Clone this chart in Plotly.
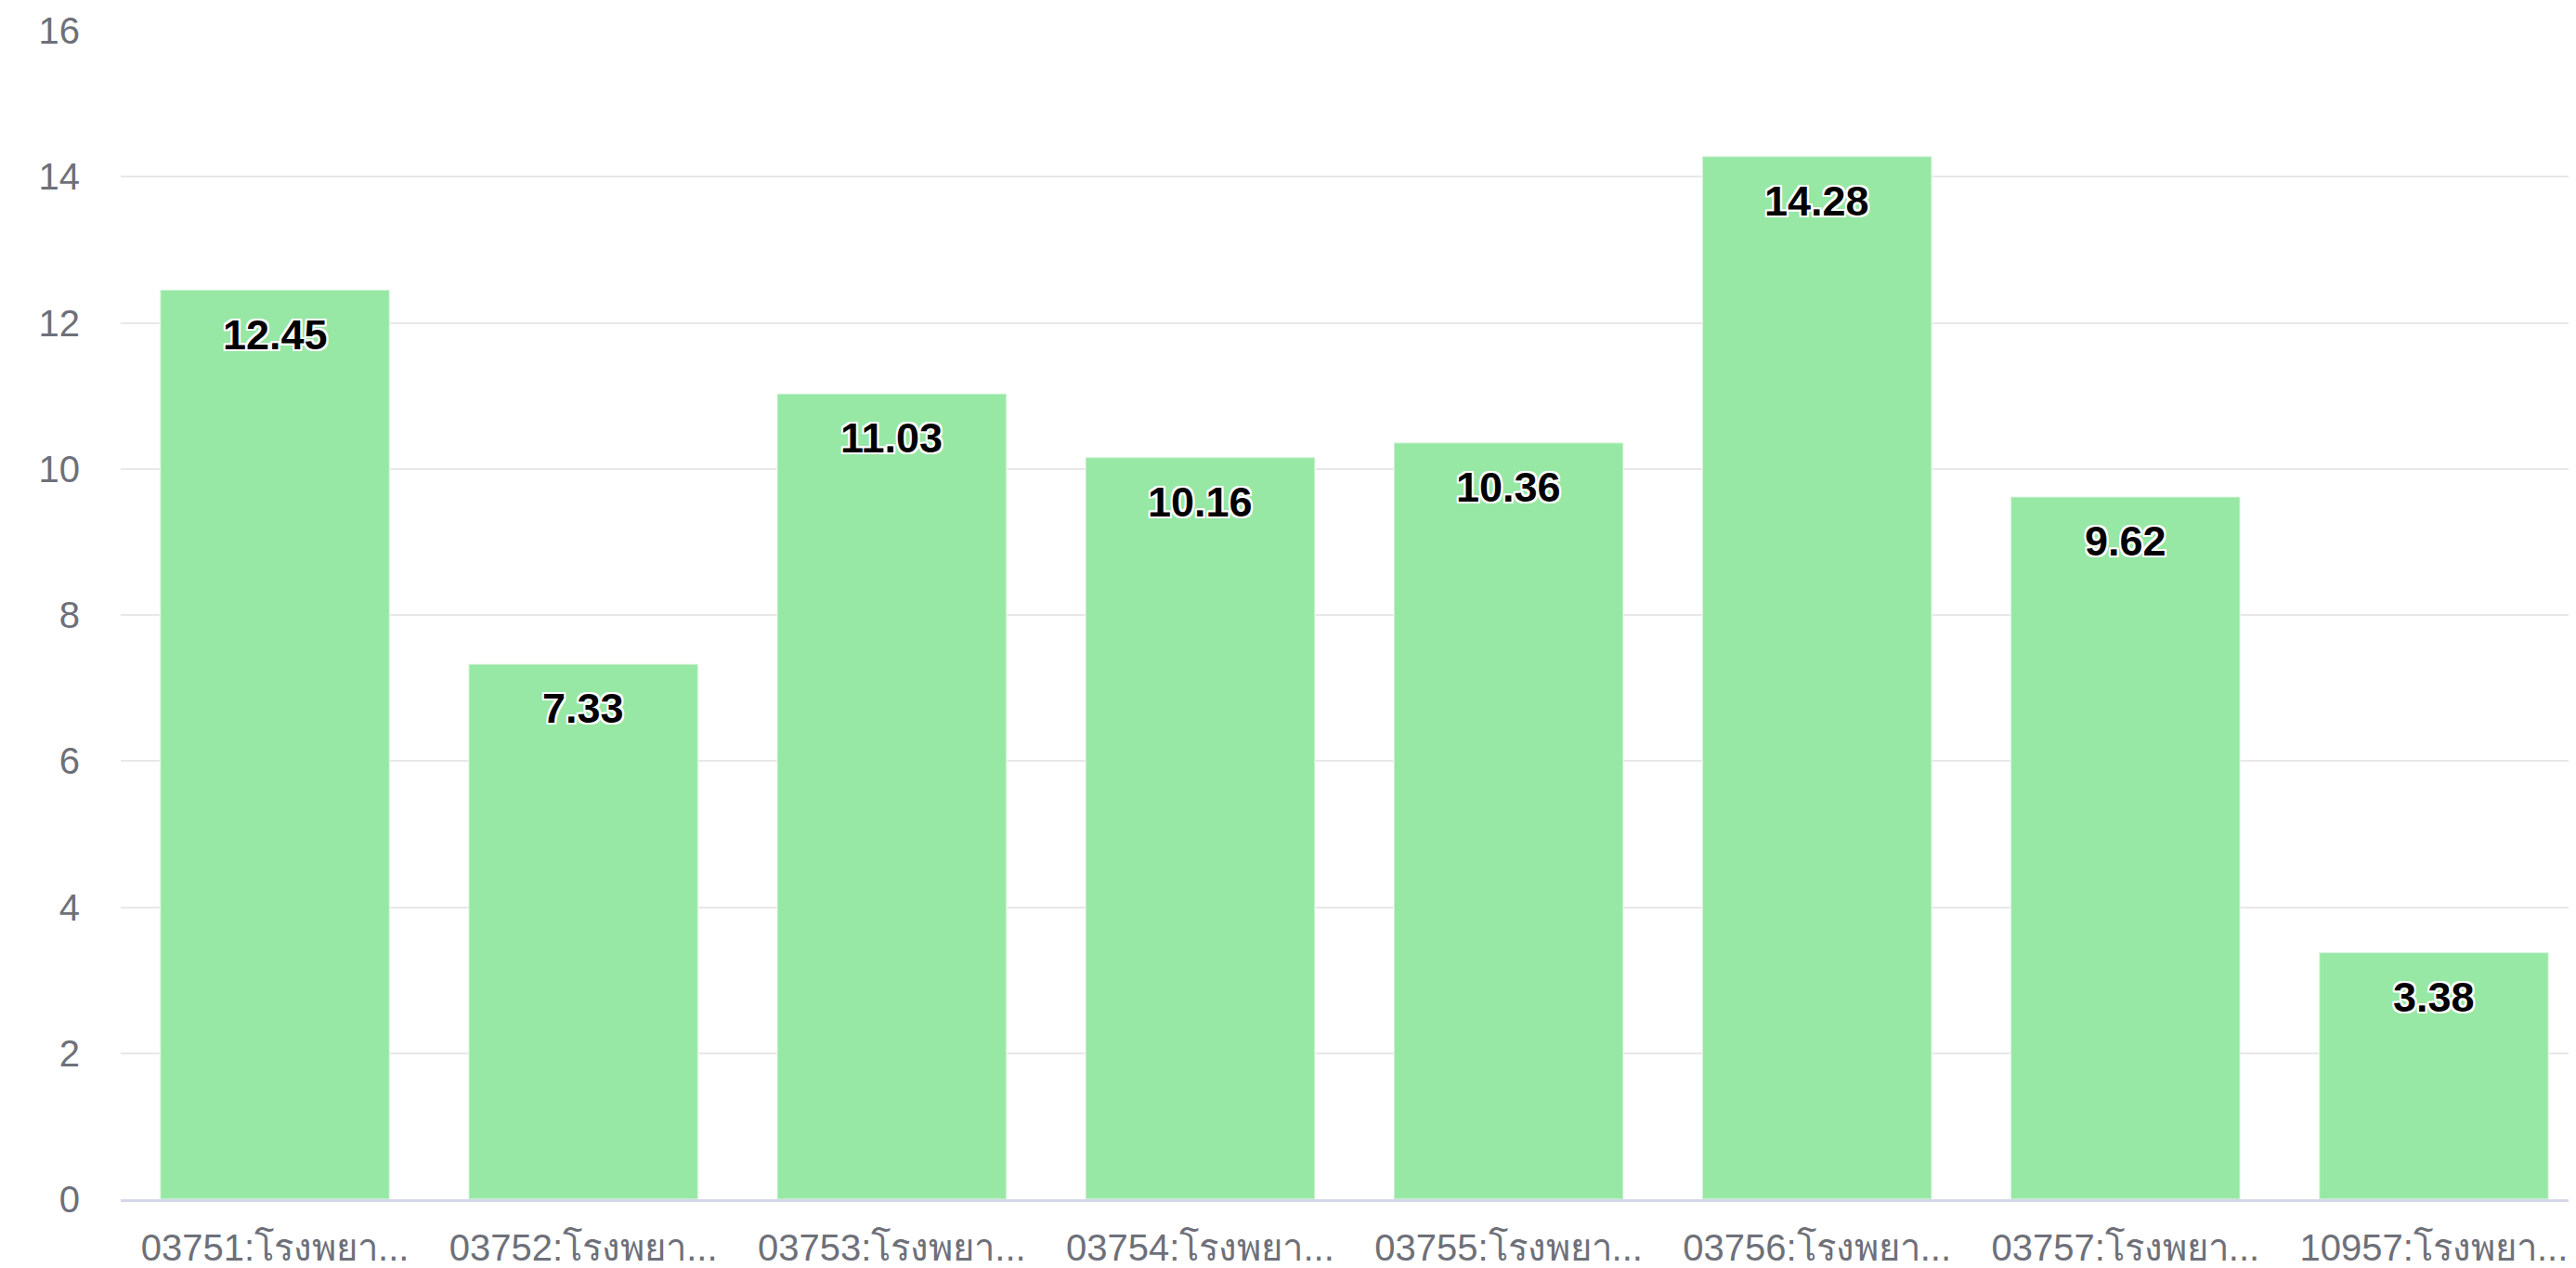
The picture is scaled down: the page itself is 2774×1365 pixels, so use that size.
import plotly.graph_objects as go

# Données
HOSPITALS = ['03751:โรงพยา...', '03752:โรงพยา...', '03753:โรงพยา...', '03754:โรงพยา...',
             '03755:โรงพยา...', '03756:โรงพยา...', '03757:โรงพยา...', '10957:โรงพยา...']
VALUES = [12.45, 7.33, 11.03, 10.16, 10.36, 14.28, 9.62, 3.38]
Y_TICKS = [0, 2, 4, 6, 8, 10, 12, 14, 16]

BAR_CLR = '#97e7a5'
GRID_CLR = '#e8e8e8'
AXIS_CLR = '#d5d7ea'
TICK_CLR = '#6e7079'
FONT = 'Liberation Sans, Arial, sans-serif'
OUTLINE = ('-2px -2px 0 #fff, 2px -2px 0 #fff, -2px 2px 0 #fff, 2px 2px 0 #fff, '
           '0 -2px 0 #fff, 0 2px 0 #fff, -2px 0 0 #fff, 2px 0 0 #fff')

fig = go.Figure()

fig.add_trace(go.Bar(
    x=list(range(len(HOSPITALS))), y=VALUES,
    marker=dict(color=BAR_CLR, line=dict(color='rgba(255,255,255,0.45)', width=2)),
    hoverinfo='skip',
))

# ── Étiquettes de valeur dans le haut des barres ──
annotations = []
for i, v in enumerate(VALUES):
    annotations.append(dict(
        x=i, y=v, xref='x', yref='y',
        text=f'{v:.2f}', showarrow=False,
        yanchor='middle', yshift=-48,
        font=dict(size=45, color='#000000', family=FONT, weight='bold', shadow=OUTLINE),
    ))

fig.update_layout(
    width=2774, height=1365,
    plot_bgcolor='white', paper_bgcolor='white',
    font=dict(family=FONT, color=TICK_CLR, size=40),
    bargap=0.256,
    showlegend=False,
    xaxis=dict(
        tickvals=list(range(len(HOSPITALS))),
        ticktext=HOSPITALS,
        range=[-0.5, 7.485],
        showgrid=False, zeroline=False,
        showline=True, linecolor=AXIS_CLR, linewidth=3,
        ticks='', tickfont=dict(size=40, color=TICK_CLR),
        ticklabelstandoff=15,
    ),
    yaxis=dict(
        range=[0, 16],
        tickvals=Y_TICKS,
        showgrid=True, gridcolor=GRID_CLR, gridwidth=2,
        zeroline=False, showline=False,
        ticks='', tickfont=dict(size=40, color=TICK_CLR),
        ticklabelstandoff=43,
    ),
    annotations=annotations,
    margin=dict(l=122, r=0, t=25, b=82),
)

fig.write_html('out.html')
